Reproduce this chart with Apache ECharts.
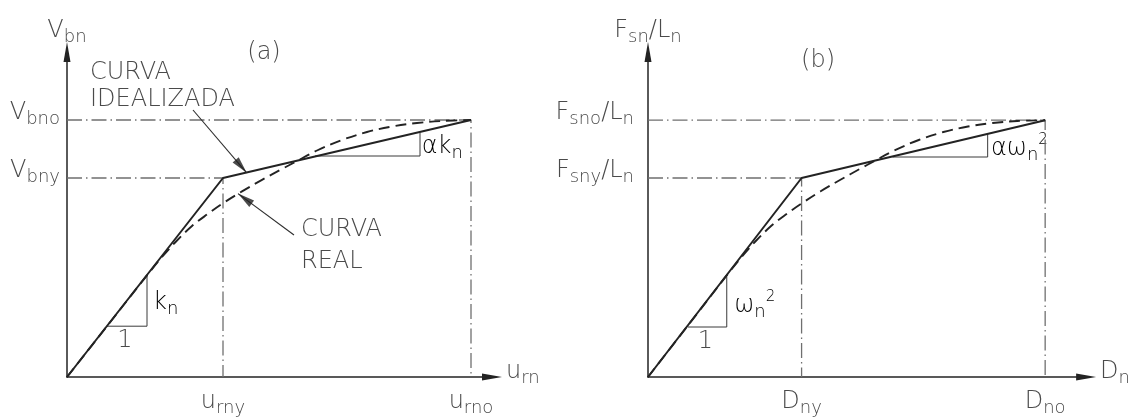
<!DOCTYPE html>
<html>
<head>
<meta charset="utf-8">
<script src="https://cdn.jsdelivr.net/npm/echarts@6/dist/echarts.min.js"></script>
<style>
  html, body { margin: 0; padding: 0; background: #ffffff; }
  #chart { width: 1133px; height: 417px; }
</style>
</head>
<body>
<div id="chart"></div>
<script>
// Drawing units: origin at the axis crossing, 1 unit ~ 1 px on screen.

// (a) shear force V_bn against relative displacement u_rn
const uRny = 156, uRno = 404;
const vBny = 199, vBno = 257;
const idealA = [[0, 0], [uRny, vBny], [uRno, vBno]];
const realA = [[0, 0], [40, 50.8], [80, 101.6], [95, 120], [110, 136.5], [125, 151], [140, 162.5],
  [156, 173.8], [175, 185.6], [195, 197.2], [215, 208], [230, 216], [250, 226.5], [275, 237],
  [300, 245], [325, 250.5], [350, 254], [375, 256], [404, 257]];
const slopeA1 = [[40, 50.8], [80, 50.8], [80, 101.6]];
const slopeA2 = [[248, 221], [353, 221], [353, 244.3]];
// leader arrows: [from, to (arrow tip)]
const leadersA = [[[126, 267], [179.7, 204.2]], [[227, 142], [171, 183.4]]];

// (b) force per unit length F_sn/L_n against displacement D_n
const dNy = 156, dNo = 403.4;
const fSny = 199, fSno = 256.8;
const idealB = [[0, 0], [dNy, fSny], [dNo, fSno]];
const realB = [[0, 0], [40, 50.8], [80, 101.6], [95, 120], [110, 136.5], [125, 151], [140, 162.5],
  [156, 173.5], [175, 185.5], [195, 197], [215, 208], [230, 216], [250, 226.5], [275, 237],
  [300, 245], [325, 250.5], [350, 254], [375, 256], [403.4, 256.8]];
const slopeB1 = [[40.5, 50], [80, 50], [80, 100.6]];
const slopeB2 = [[248.4, 220], [345, 220], [345, 243]];

// tick labels ("_" starts a subscript, "^" a superscript)
const xTicksA = [uRny, uRno], xLabelsA = ['u_rny', 'u_rno'];
const yTicksA = [vBny, vBno], yLabelsA = ['V_bny', 'V_bno'];
const xTicksB = [dNy, dNo], xLabelsB = ['D_ny', 'D_no'];
const yTicksB = [fSny, fSno], yLabelsB = ['F_sny/L_n', 'F_sno/L_n'];
const axisNamesA = ['u_rn', 'V_bn'];
const axisNamesB = ['D_n', 'F_sn/L_n'];

const FONT = 'DejaVu Sans';
const TXT = '#4a4a4a';
const INK = '#232323';
const GUIDE = '#6f6f6f';
// filled arrowhead whose tip sits at the centre of its bounding box
const ARROW_HEAD = 'path://M0,-17L0,-17M0,0L4,17L-4,17Z';

const richStyles = {
  m: { fontSize: 24, fontFamily: FONT, fontWeight: 200, color: TXT },
  s: { fontSize: 18, fontFamily: FONT, fontWeight: 200, color: TXT, padding: [12, 0, 0, 0] },
  p: { fontSize: 15, fontFamily: FONT, fontWeight: 200, color: TXT, padding: [0, 0, 18, 0] }
};

function toRich(str) {
  return str.split(/(_[a-z0-9]+|\^[0-9]+)/).filter(Boolean).map(function (t) {
    if (t[0] === '_') return '{s|' + t.slice(1) + '}';
    if (t[0] === '^') return '{p|' + t.slice(1) + '}';
    return '{m|' + t + '}';
  }).join('');
}

function pickLabel(ticks, labels, v) {
  let best = 0;
  ticks.forEach(function (t, i) { if (Math.abs(t - v) < Math.abs(ticks[best] - v)) best = i; });
  return toRich(labels[best]);
}

function axisLine() {
  return { show: true, symbol: ['none', 'triangle'], symbolSize: [7, 20],
    lineStyle: { color: INK, width: 1.5 } };
}

function makeX(gi, max, ticks, labels, name) {
  return {
    gridIndex: gi, type: 'value', min: 0, max: max,
    axisLine: axisLine(), axisTick: { show: false }, splitLine: { show: false },
    axisLabel: { show: true, customValues: ticks, margin: 10,
      formatter: function (v) { return pickLabel(ticks, labels, v); }, rich: richStyles },
    name: toRich(name), nameLocation: 'end', nameGap: 14,
    nameTextStyle: { rich: richStyles, align: 'left', verticalAlign: 'middle', padding: [0, 0, 10, 0] }
  };
}

function makeY(gi, max, ticks, labels, name, margin) {
  return {
    gridIndex: gi, type: 'value', min: 0, max: max,
    axisLine: axisLine(), axisTick: { show: false }, splitLine: { show: false },
    axisLabel: { show: true, customValues: ticks, margin: margin, verticalAlign: 'middle',
      padding: [0, 0, 14, 0],
      formatter: function (v) { return pickLabel(ticks, labels, v); }, rich: richStyles },
    name: toRich(name), nameLocation: 'end', nameGap: 6,
    nameTextStyle: { rich: richStyles, align: 'center', verticalAlign: 'bottom' }
  };
}

function seriesFor(gi, ideal, real, yTick, yEnd, xTick, xEnd, s1, s2, leaders) {
  const base = { xAxisIndex: gi, yAxisIndex: gi, symbol: 'none', silent: true, animation: false };
  const list = [
    Object.assign({ type: 'line', data: [[0, yEnd], [xEnd, yEnd], [xEnd, 0]], z: 1,
      lineStyle: { color: GUIDE, width: 1.3, type: [15, 4, 1.5, 4] } }, base),
    Object.assign({ type: 'line', data: [[0, yTick], [xTick, yTick], [xTick, 0]], z: 1,
      lineStyle: { color: GUIDE, width: 1.3, type: [15, 4, 1.5, 4] } }, base),
    Object.assign({ type: 'line', data: s1, z: 2, lineStyle: { color: '#3a3a3a', width: 1 } }, base),
    Object.assign({ type: 'line', data: s2, z: 2, lineStyle: { color: '#3a3a3a', width: 1 } }, base),
    Object.assign({ type: 'line', data: real, smooth: 0.35, z: 3,
      lineStyle: { color: INK, width: 1.9, type: [11, 6] } }, base),
    Object.assign({ type: 'line', data: ideal, z: 4, lineStyle: { color: INK, width: 2 } }, base)
  ];
  (leaders || []).forEach(function (l) {
    // shaft
    list.push(Object.assign({ type: 'line', data: l, z: 5,
      lineStyle: { color: '#2e2e2e', width: 1.1 } }, base));
    // head, turned along the shaft (x and y units share the same pixel scale)
    const ang = Math.atan2(l[1][1] - l[0][1], l[1][0] - l[0][0]) * 180 / Math.PI;
    list.push({ type: 'scatter', xAxisIndex: gi, yAxisIndex: gi, silent: true, animation: false, z: 6,
      symbol: ARROW_HEAD, symbolSize: [8, 34], symbolRotate: ang - 90,
      itemStyle: { color: '#1e1e1e' }, data: [l[1]] });
  });
  return list;
}

const chart = echarts.init(document.getElementById('chart'), null, { renderer: 'canvas' });

chart.setOption({
  animation: false,
  backgroundColor: '#ffffff',
  grid: [
    { left: 67, top: 52, width: 425, height: 325, containLabel: false },
    { left: 648, top: 52, width: 445, height: 325, containLabel: false }
  ],
  xAxis: [
    makeX(0, 425, xTicksA, xLabelsA, axisNamesA[0]),
    makeX(1, 445, xTicksB, xLabelsB, axisNamesB[0])
  ],
  yAxis: [
    makeY(0, 325, yTicksA, yLabelsA, axisNamesA[1], 7),
    makeY(1, 325, yTicksB, yLabelsB, axisNamesB[1], 14)
  ],
  series: [].concat(
    seriesFor(0, idealA, realA, vBny, vBno, uRny, uRno, slopeA1, slopeA2, leadersA),
    seriesFor(1, idealB, realB, fSny, fSno, dNy, dNo, slopeB1, slopeB2, null)
  )
});

// Free annotations, anchored in each panel's data units.
function textAt(gi, X, Y, str, align, vAlign, plain, lineHeight) {
  const p = chart.convertToPixel({ gridIndex: gi }, [X, Y]);
  const style = { x: p[0], y: p[1], align: align, verticalAlign: vAlign };
  if (plain) {
    Object.assign(style, { text: str, fontSize: 24, fontFamily: FONT, fontWeight: 200, fill: TXT,
      lineHeight: lineHeight });
  } else {
    Object.assign(style, { text: toRich(str), rich: richStyles });
  }
  return { type: 'text', silent: true, style: style };
}

chart.setOption({
  graphic: [
    textAt(0, 197, 324, '(a)', 'center', 'middle', true),
    textAt(0, 23, 317, 'CURVA\nIDEALIZADA', 'left', 'top', true, 26.5),
    textAt(0, 234, 163, 'CURVA\nREAL', 'left', 'top', true, 32),
    textAt(0, 58, 36, '1', 'center', 'middle', true),
    textAt(0, 86, 74, 'k_n', 'left', 'middle', false),
    textAt(0, 354.7, 230, 'αk_n', 'left', 'middle', false),
    textAt(1, 172.7, 316, '(b)', 'center', 'middle', true),
    textAt(1, 58.3, 35.6, '1', 'center', 'middle', true),
    textAt(1, 87.5, 71, 'ω_n^2', 'left', 'middle', false),
    textAt(1, 348.4, 228, 'αω_n^2', 'left', 'middle', false)
  ]
});
</script>
</body>
</html>
